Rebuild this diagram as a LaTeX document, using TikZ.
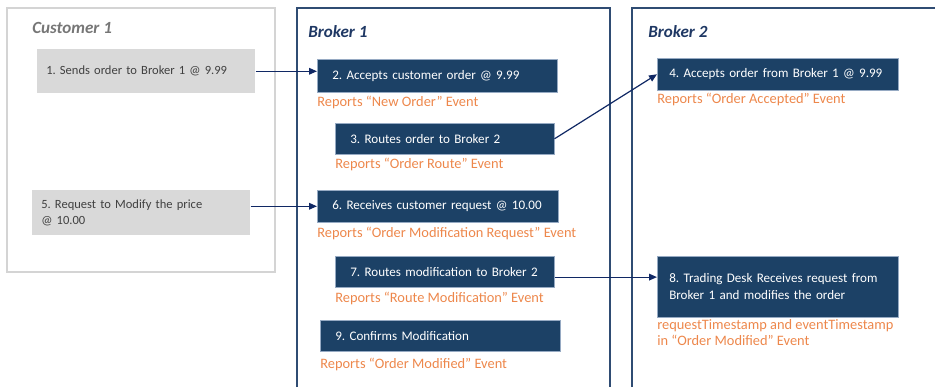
\documentclass[tikz,border=0pt]{standalone}
\usepackage{fontspec}
\setmainfont{Carlito}
\usetikzlibrary{positioning, arrows.meta}
\definecolor{boxblue}{RGB}{28,65,102}
\definecolor{boxedge}{RGB}{150,170,195}
\definecolor{greyfill}{RGB}{217,217,217}
\definecolor{greytext}{RGB}{64,64,64}
\definecolor{greyframe}{RGB}{212,212,212}
\definecolor{titlegrey}{RGB}{118,118,118}
\definecolor{titleblue}{RGB}{31,56,100}
\definecolor{frameblue}{RGB}{47,76,115}
\definecolor{arrowblue}{RGB}{16,40,100}
\definecolor{evtorange}{RGB}{237,135,75}
\frenchspacing

\begin{document}
\begin{tikzpicture}[
    x=0.75pt, y=-0.75pt,
    bluebox/.style={
      font=\fontsize{9.8}{12.75}\selectfont, fill=boxblue, draw=boxedge,
      line width=0.4pt, text=white, anchor=north west, align=left,
      inner xsep=11.25pt, inner ysep=2pt
    },
    greybox/.style={
      font=\fontsize{9.4}{12}\selectfont, fill=greyfill, text=greytext,
      anchor=north west, align=left, inner xsep=6.75pt, text width=150pt,
      minimum height=33pt
    },
    evtlabel/.style={
      font=\fontsize{10.8}{12}\selectfont, text=evtorange, inner sep=0pt,
      align=left
    },
    lanetitle/.style={
      anchor=west, inner sep=0pt,
      font=\fontsize{12.8}{14}\selectfont\bfseries\itshape
    },
    flow/.style={-{Triangle[length=6pt, width=5pt]}, arrowblue, line width=0.9pt},
]
    \useasboundingbox (0,0) rectangle (935,387);

    % Lanes
    \draw[greyframe, line width=0.8pt] (7,8) rectangle (275,272);
    \draw[frameblue, line width=1pt] (297,387) -- (297,8) -- (610,8) -- (610,387);
    \draw[frameblue, line width=1pt] (632,387) -- (632,8) -- (935,8);

    \node[lanetitle, titlegrey] (tc) at (32,28) {Customer 1};
    \node[lanetitle, titleblue] (tb1) at (308,32) {Broker 1};
    \node[lanetitle, titleblue] (tb2) at (648,32) {Broker 2};

    % Customer column
    \node[greybox] (c1) at (37,49) {1. Sends order to Broker 1 @ 9.99};
    \node[greybox, minimum height=33.75pt] (c5) at (32,190) {5. Request to Modify the price\\@ 10.00};

    % Broker 1 column
    \node[bluebox, text width=157.5pt, minimum height=24.75pt] (b2) at (317,59) {2. Accepts customer order @ 9.99};
    \node[bluebox, text width=141.75pt, minimum height=23.25pt] (b3) at (335,123) {3. Routes order to Broker 2};
    \node[bluebox, text width=158.25pt, minimum height=24pt] (b6) at (317,190) {6. Receives customer request @ 10.00};
    \node[bluebox, text width=141.75pt, minimum height=23.25pt] (b7) at (335,256) {7. Routes modification to Broker 2};
    \node[bluebox, text width=157.5pt, minimum height=23.25pt] (b9) at (320,320) {9. Confirms Modification};

    \node[evtlabel, below right=2.5pt and 0pt of b2.south west] (e2) {Reports “New Order” Event};
    \node[evtlabel, below right=2.5pt and 0pt of b3.south west] (e3) {Reports “Order Route” Event};
    \node[evtlabel, below right=3pt and 0pt of b6.south west] (e6) {Reports “Order Modification Request” Event};
    \node[evtlabel, below right=3pt and 0pt of b7.south west] (e7) {Reports “Route Modification” Event};
    \node[evtlabel, below right=4.5pt and 0pt of b9.south west] (e9) {Reports “Order Modified” Event};

    % Broker 2 column
    \node[bluebox, inner xsep=9pt, text width=162.75pt, minimum height=24pt] (b4) at (657,58) {4. Accepts order from Broker 1 @ 9.99};
    \node[bluebox, inner xsep=9pt, text width=162.75pt, minimum height=45.75pt] (b8) at (657,256) {8. Trading Desk Receives request from\\Broker 1 and modifies the order};

    \node[evtlabel, below right=2pt and 0pt of b4.south west] (e4) {Reports “Order Accepted” Event};
    \node[evtlabel, below right=1.5pt and 0pt of b8.south west] (e8) {requestTimestamp and eventTimestamp\\in “Order Modified” Event};

    % Flows
    \draw[flow] (c1.east) -- (c1.east -| b2.west);
    \draw[flow] (b3.east) -- (b4.west);
    \draw[flow] (b6.west -| c5.east) -- (b6.west);
    \draw[flow] ([yshift=-4pt]b7.east) -- ([yshift=-4pt]b7.east -| b8.west);
\end{tikzpicture}
\end{document}
